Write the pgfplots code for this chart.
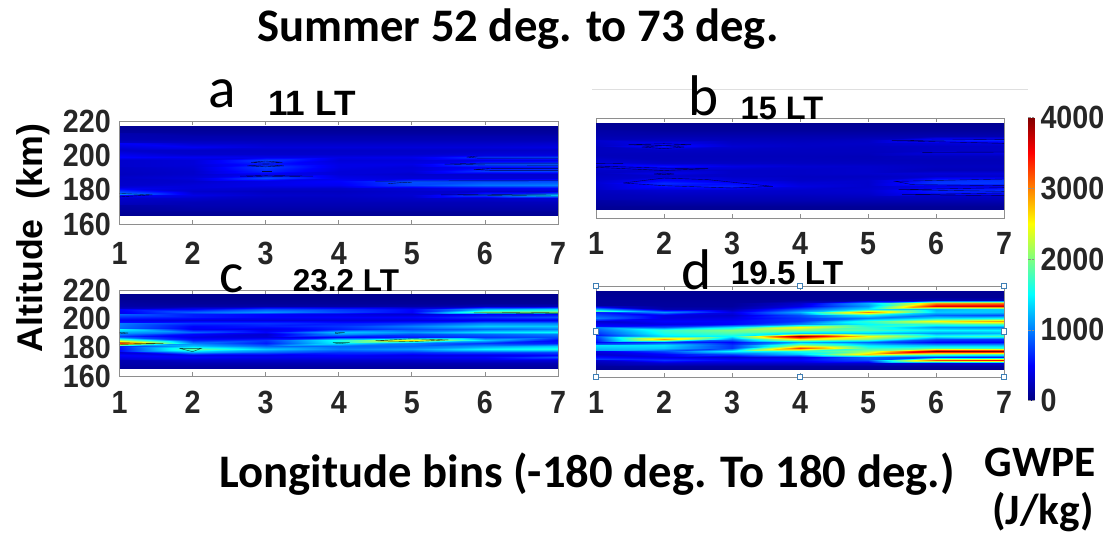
\documentclass[border=0pt]{standalone}
\usepackage{pgfplots}
\pgfplotsset{compat=1.18}
\usepackage{fontspec}
\setmainfont{Liberation Sans}
\newfontfamily\carl{Carlito}
\definecolor{tk}{HTML}{262626}
\definecolor{bx}{HTML}{8E8E8E}
\definecolor{hd}{HTML}{3F7FB5}
\newcommand\tfont{\fontsize{21.5pt}{22pt}\selectfont\bfseries\color{tk}}
\pgfplotsset{
 pan/.style={scale only axis,anchor=south west,xmin=1,xmax=7,ymin=160,ymax=220,
  xtick={1,...,7},ytick={160,180,200,220},
  /pgf/number format/assume math mode=true,
  tick label style={font=\tfont},
  xticklabel={\scalebox{1}[1.12]{\pgfmathprintnumber{\tick}}},
  yticklabel={\scalebox{1}[1.12]{\pgfmathprintnumber{\tick}}},
  axis line style={bx,line width=0.6pt},
  xtick style={bx,line width=0.6pt},ytick style={draw=none},
  major tick length=3pt,yticklabel shift=3pt,
  point meta min=0,point meta max=4000,colormap/jet},
 ct/.style={black,line width=0.3pt,no marks,opacity=0.7},
 hm/.style={surf,shader=interp,mesh/cols=7,point meta={\thisrowno{0}}},
 /pgfplots/table/tb/.style={row sep=\\,header=false,x expr={mod(\coordindex,7)+1},y expr={217-2*floor(\coordindex/7)}}
}
\begin{document}
\begin{tikzpicture}[x=0.75pt,y=-0.75pt]
\path[use as bounding box] (0,0) rectangle (1108,533);
% panel a
\begin{axis}[pan,at={(89.625pt,-168pt)},width=328.875pt,height=77.25pt,xticklabel shift=10pt]
\addplot[hm] table[tb]{80\\80\\80\\80\\80\\80\\80\\
100\\100\\100\\100\\100\\100\\100\\
130\\130\\130\\130\\130\\130\\130\\
180\\180\\180\\180\\180\\180\\180\\
220\\220\\220\\220\\220\\220\\220\\
300\\300\\280\\280\\280\\280\\300\\
480\\450\\350\\350\\350\\350\\380\\
280\\280\\280\\280\\280\\280\\280\\
300\\300\\300\\300\\300\\350\\350\\
500\\450\\420\\400\\420\\700\\750\\
300\\350\\750\\350\\350\\400\\400\\
300\\350\\600\\400\\400\\800\\850\\
300\\330\\750\\400\\350\\500\\550\\
280\\300\\650\\350\\350\\720\\750\\
250\\300\\450\\350\\300\\300\\300\\
300\\350\\800\\420\\350\\350\\350\\
280\\300\\400\\500\\800\\780\\780\\
300\\350\\420\\450\\780\\950\\1000\\
400\\350\\320\\300\\350\\450\\480\\
450\\300\\250\\250\\300\\300\\300\\
1100\\400\\300\\280\\320\\800\\1350\\
500\\300\\250\\250\\280\\300\\350\\
300\\220\\220\\220\\220\\220\\240\\
220\\200\\200\\200\\200\\200\\200\\
160\\160\\160\\160\\160\\160\\160\\
100\\100\\100\\100\\100\\100\\100\\
80\\80\\80\\80\\80\\80\\80\\};
\addplot[ct] coordinates {(1,177.8)(1.45,177)(1,175.8)};
\addplot[ct] coordinates {(2.8,195.9)(3,196.7)(3.23,195.9)(3,195.4)(2.8,195.9)};
\addplot[ct] coordinates {(2.75,193.9)(3,194.5)(3.25,193.9)(3,193.3)(2.75,193.9)};
\addplot[ct] coordinates {(2.95,190.8)(3.08,190.8)};
\addplot[ct] coordinates {(2.65,187.9)(3,188.3)(3.65,187.9)(3,187.5)(2.65,187.9)};
\addplot[ct] coordinates {(4.5,185)(7,185.2)};
\addplot[ct] coordinates {(4.68,183.5)(4.9,184.3)(5,184)};
\addplot[ct] coordinates {(7,177.5)(5.4,177)(7,176.3)};
\addplot[ct] coordinates {(7,199.6)(5.9,199.6)(5.75,199)(5.9,198.4)(7,198.4)};
\addplot[ct] coordinates {(7,195.5)(6,195.5)(5.45,194.9)(6,194.4)(7,194.3)};
\addplot[ct] coordinates {(7,192.4)(6.1,192.4)(5.85,191.8)(6.1,191.2)(7,191.2)};
\end{axis}
% panel b
\begin{axis}[pan,at={(447pt,-163.5pt)},width=306pt,height=75pt,yticklabel={\mbox{}},xticklabel shift=7pt]
\addplot[hm] table[tb]{70\\70\\70\\70\\70\\70\\70\\
90\\90\\90\\90\\90\\90\\90\\
110\\110\\110\\110\\110\\110\\110\\
150\\150\\150\\150\\150\\150\\150\\
190\\190\\190\\190\\190\\190\\190\\
230\\260\\240\\230\\260\\600\\620\\
300\\450\\280\\260\\280\\350\\350\\
260\\580\\320\\270\\260\\280\\280\\
250\\270\\260\\250\\250\\280\\280\\
240\\240\\240\\240\\240\\360\\360\\
230\\230\\230\\230\\220\\250\\250\\
240\\240\\240\\240\\230\\220\\220\\
360\\280\\270\\260\\250\\230\\230\\
420\\560\\400\\320\\300\\250\\250\\
280\\300\\280\\280\\300\\220\\220\\
260\\420\\280\\280\\300\\350\\350\\
250\\300\\280\\260\\260\\300\\300\\
300\\500\\350\\280\\300\\660\\680\\
340\\670\\520\\340\\300\\720\\720\\
320\\560\\620\\380\\300\\420\\420\\
280\\330\\320\\300\\320\\620\\660\\
260\\280\\280\\280\\300\\560\\560\\
240\\240\\240\\240\\260\\280\\280\\
200\\200\\200\\200\\200\\210\\210\\
150\\150\\150\\150\\150\\150\\150\\
100\\100\\100\\100\\100\\100\\100\\
70\\70\\70\\70\\70\\70\\70\\};
\addplot[ct] coordinates {(1.48,204)(2,204.6)(2.4,204)(2,203.5)(1.48,204)};
\addplot[ct] coordinates {(1.67,202.6)(2,203.4)(2.3,202.6)(2,201.6)(1.67,202.6)};
\addplot[ct] coordinates {(1,192.8)(1.4,192.6)};
\addplot[ct] coordinates {(1,191.2)(2,189.9)(2.65,189.6)(2,188.5)(1,190.4)};
\addplot[ct] coordinates {(1.85,186.4)(2,187)(2.15,186.4)(2,186)(1.85,186.4)};
\addplot[ct] coordinates {(1.4,181)(2,184)(2.65,183)(3,181.5)(3.6,179)(3,178)(2,179.4)(1.4,181)};
\addplot[ct] coordinates {(7,207.2)(5.35,206.4)(7,204.8)};
\addplot[ct] coordinates {(5.8,199.4)(7,199.6)};
\addplot[ct] coordinates {(7,183.4)(5.4,182)(5.65,180)(7,179.4)};
\addplot[ct] coordinates {(7,178.2)(5.45,177)(7,176)};
\addplot[ct] coordinates {(7,175)(5.5,174)(7,173.4)};
\end{axis}
% panel c
\begin{axis}[pan,at={(89.625pt,-282pt)},width=328.875pt,height=64.5pt,xticklabel shift=8pt]
\addplot[hm] table[tb]{60\\60\\60\\60\\60\\60\\60\\
70\\70\\70\\70\\70\\70\\70\\
80\\80\\80\\80\\80\\80\\80\\
100\\100\\100\\100\\100\\100\\100\\
160\\160\\160\\160\\160\\220\\220\\
300\\500\\800\\700\\500\\1200\\1400\\
500\\900\\1100\\800\\500\\2000\\2100\\
400\\600\\500\\400\\300\\500\\500\\
900\\600\\500\\500\\500\\700\\800\\
450\\350\\350\\350\\350\\400\\400\\
600\\700\\700\\600\\700\\1000\\1000\\
1000\\500\\600\\700\\1000\\1300\\1300\\
900\\450\\400\\600\\800\\900\\1000\\
1500\\900\\500\\1300\\1100\\1400\\1500\\
1000\\500\\300\\1100\\800\\900\\1000\\
600\\400\\350\\500\\600\\700\\800\\
900\\600\\700\\1600\\2600\\1300\\500\\
3300\\1000\\600\\1500\\1000\\700\\600\\
1200\\1300\\900\\900\\900\\1100\\1300\\
600\\1900\\1300\\1000\\1100\\1500\\1600\\
500\\1200\\900\\700\\700\\800\\800\\
300\\400\\400\\500\\400\\400\\500\\
500\\500\\450\\450\\450\\500\\800\\
300\\300\\300\\300\\300\\350\\350\\
200\\200\\200\\200\\200\\200\\200\\
140\\140\\140\\140\\140\\140\\140\\
100\\100\\100\\100\\100\\100\\100\\};
\addplot[ct] coordinates {(1,190.5)(1.12,190)(1,189.4)};
\addplot[ct] coordinates {(1,183.2)(1.6,182.6)(1,182)};
\addplot[ct] coordinates {(1.82,179.3)(2.12,179.3)(2,177)(1.82,179.3)};
\addplot[ct] coordinates {(3.95,190.4)(4.08,190.3)(3.95,189.6)};
\addplot[ct] coordinates {(3.92,183.3)(4.15,183.3)(4,182.5)(3.92,183.3)};
\addplot[ct] coordinates {(4.5,184.6)(5,186)(5.5,185.2)(5,184)(4.5,184.6)};
\addplot[ct] coordinates {(7,204.5)(5.85,204)(7,203.5)};
\end{axis}
% panel d
\begin{axis}[pan,at={(447pt,-282.75pt)},width=306pt,height=68.25pt,clip=false,yticklabel={\mbox{}},xticklabel shift=7pt,
 colorbar,colorbar style={at={(1.06,-0.26)},anchor=south west,width=4.5pt,height=212.5pt,
  ytick={0,1000,2000,3000,4000},ylabel={},
  /pgf/number format/assume math mode=true,
  /pgf/number format/set thousands separator={},
  yticklabel style={font=\tfont},
  yticklabel={\scalebox{1}[1.12]{\pgfmathprintnumber{\tick}}},
  axis line style={draw=none},
  ytick style={bx,line width=0.5pt},major tick length=2pt,yticklabel shift=1pt}]
\addplot[hm] table[tb]{70\\70\\70\\70\\70\\70\\70\\
80\\80\\80\\80\\80\\80\\80\\
90\\90\\90\\90\\90\\90\\90\\
100\\100\\100\\100\\120\\200\\220\\
110\\110\\110\\300\\1200\\2900\\3000\\
120\\120\\120\\400\\1100\\3600\\3700\\
300\\200\\200\\800\\1400\\1200\\1300\\
2100\\1100\\400\\1200\\3000\\1300\\1300\\
600\\400\\300\\800\\1500\\900\\800\\
1000\\400\\400\\700\\1000\\1400\\1500\\
500\\500\\500\\700\\1700\\2500\\2900\\
300\\400\\500\\1000\\1500\\1700\\1800\\
600\\800\\1400\\2500\\1700\\1100\\1000\\
1000\\1700\\2000\\2000\\1800\\1500\\1500\\
700\\1600\\1800\\1300\\1300\\1100\\1200\\
500\\1400\\1500\\4000\\2500\\1600\\1800\\
800\\2900\\1000\\2600\\2000\\800\\700\\
500\\700\\500\\1200\\900\\500\\500\\
1000\\1400\\700\\2100\\1400\\1200\\1200\\
1400\\1300\\700\\3300\\1700\\1800\\1700\\
1100\\800\\1500\\1600\\2100\\4000\\4000\\
400\\500\\800\\1300\\2700\\2000\\1800\\
300\\400\\300\\400\\900\\700\\600\\
800\\700\\500\\500\\800\\3200\\3500\\
300\\300\\300\\300\\300\\300\\350\\
120\\120\\120\\120\\120\\120\\120\\
80\\80\\80\\80\\80\\80\\80\\};
\addplot[only marks,mark=square*,mark size=2.1pt,mark options={fill=white,draw=hd,line width=0.8pt}]
 coordinates {(1,160)(4,160)(7,160)(1,190)(7,190)(1,220)(4,220)(7,220)};
\end{axis}
% texts
\draw[gray!25,line width=0.5pt] (592,89) -- (1028,89);
\node[font=\carl\bfseries\fontsize{35pt}{37pt}\selectfont] at (518,29) {Summer 52 deg. to 73 deg.};
\node[font=\carl\fontsize{43pt}{45pt}\selectfont] at (222,94) {a};
\node[font=\carl\fontsize{43pt}{45pt}\selectfont] at (704,96) {b};
\node[font=\carl\fontsize{43pt}{45pt}\selectfont] at (232,279) {c};
\node[font=\carl\fontsize{43pt}{45pt}\selectfont] at (697,270) {d};
\node[font=\bfseries\fontsize{26.4pt}{28pt}\selectfont] at (312,103) {11 LT};
\node[font=\bfseries\fontsize{24.4pt}{26pt}\selectfont] at (782,108) {15 LT};
\node[font=\bfseries\fontsize{23.6pt}{25pt}\selectfont] at (346,281) {23.2 LT};
\node[font=\bfseries\fontsize{25pt}{27pt}\selectfont] at (787,273) {19.5 LT};
\node[rotate=90,font=\bfseries\fontsize{26.8pt}{28pt}\selectfont] at (33,238) {Altitude\ \ (km)};
\node[font=\carl\bfseries\fontsize{35pt}{37pt}\selectfont] at (587,474) {Longitude bins (-180 deg. To 180 deg.)};
\node[font=\carl\bfseries\fontsize{32.5pt}{34pt}\selectfont] at (1040,462) {GWPE};
\node[font=\carl\bfseries\fontsize{32.5pt}{34pt}\selectfont] at (1043,512) {(J/kg)};
\end{tikzpicture}
\end{document}
